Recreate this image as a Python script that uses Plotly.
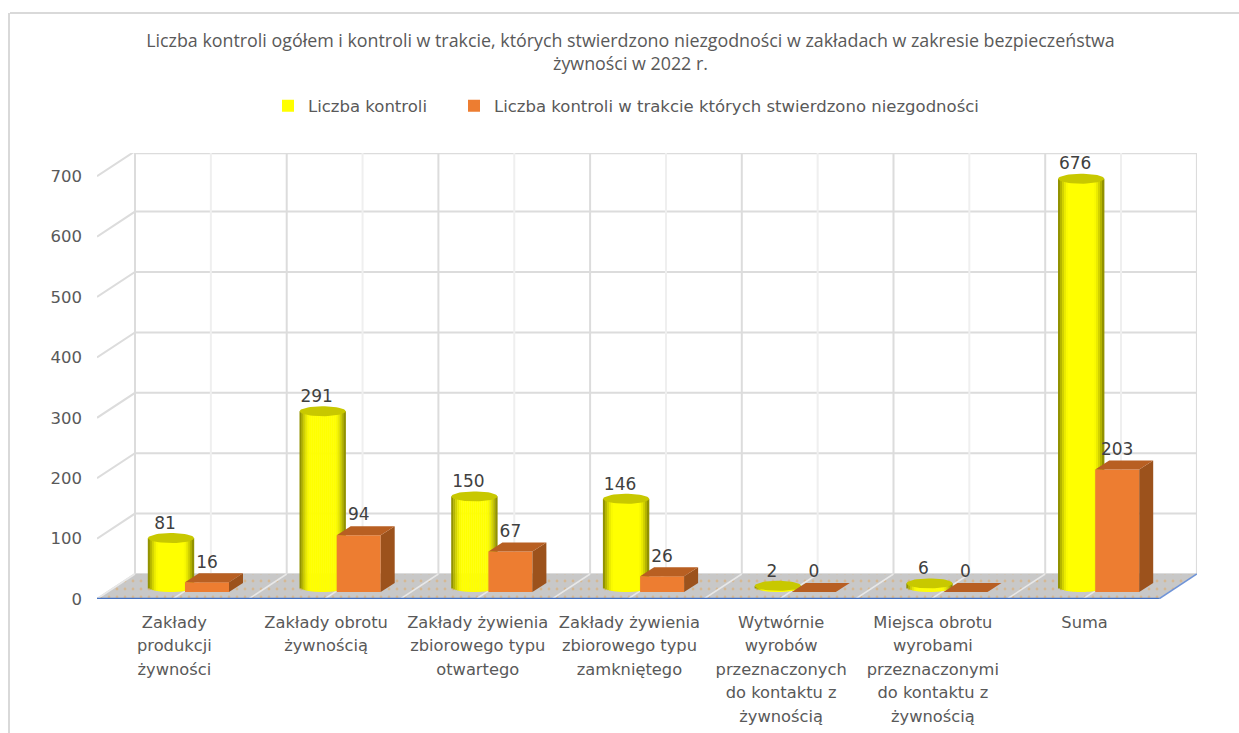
import numpy as np
import plotly.graph_objects as go

# ---- data ----
CATEGORIES = [
    ["Zakłady", "produkcji", "żywności"],
    ["Zakłady obrotu", "żywnością"],
    ["Zakłady żywienia", "zbiorowego typu", "otwartego"],
    ["Zakłady żywienia", "zbiorowego typu", "zamkniętego"],
    ["Wytwórnie", "wyrobów", "przeznaczonych", "do kontaktu z", "żywnością"],
    ["Miejsca obrotu", "wyrobami", "przeznaczonymi", "do kontaktu z", "żywnością"],
    ["Suma"],
]
KONTROLE = [81, 291, 150, 146, 2, 6, 676]
NIEZGODNOSCI = [16, 94, 67, 26, 0, 0, 203]
Y_TICKS = [0, 100, 200, 300, 400, 500, 600, 700]
SERIES_A = "Liczba kontroli"
SERIES_B = "Liczba kontroli w trakcie których stwierdzono niezgodności"
TITLE_LINES = ["Liczba kontroli ogółem i kontroli w trakcie, których stwierdzono niezgodności "
               "w zakładach w zakresie bezpieczeństwa", "żywności w 2022 r."]

# ---- geometry / style ----
W, H = 1239, 733
L, R, T, B = 97, 1197, 153, 599        # plot box in page pixels
UX = 151.7                              # px per category
UY = 0.604                              # px per value unit
XMAX = (R - L) / UX
YMAX = (B - T) / UY
DEPTH_X, DEPTH_Y = 38 / UX, 25 / UY     # wall depth
FONT = "DejaVu Sans"
TXT = "#595959"
GRID = "#dcdcdc"
GRID_L = "#efefef"

CYL_C = 74 / UX
CYL_A = 23 / UX
CYL_BASE = 12 / UY
CYL_B = 5 / UY
BOX_C = 110 / UX
BOX_W = 44 / UX
BOX_BASE = 7 / UY
BOX_DX, BOX_DY = 14 / UX, 9 / UY

fig = go.Figure()


def bg(x, y, **kw):
    fig.add_trace(go.Scatter(x=x, y=y, xaxis="x", yaxis="y", showlegend=False,
                             hoverinfo="skip", **kw))


def fg(x, y, **kw):
    fig.add_trace(go.Scatter(x=x, y=y, xaxis="x2", yaxis="y2", showlegend=False,
                             hoverinfo="skip", **kw))


# walls
xs, ys = [], []
for v in Y_TICKS:
    xs += [0, DEPTH_X, XMAX, None]
    ys += [v, v + DEPTH_Y, v + DEPTH_Y, None]
bg(xs, ys, mode="lines", line=dict(color=GRID, width=2))
bg([DEPTH_X, XMAX], [YMAX - 0.5, YMAX - 0.5], mode="lines", line=dict(color=GRID, width=2))
xs, ys = [], []
for k in range(7):
    xs += [DEPTH_X + k + 0.5, DEPTH_X + k + 0.5, None]
    ys += [DEPTH_Y, YMAX, None]
bg(xs, ys, mode="lines", line=dict(color=GRID_L, width=2))
xs, ys = [], []
for k in range(8):
    xs += [DEPTH_X + k, DEPTH_X + k, None]
    ys += [DEPTH_Y, YMAX, None]
bg(xs, ys, mode="lines", line=dict(color=GRID, width=2))

# floor
bg([0, 7, 7 + DEPTH_X, DEPTH_X, 0], [0, 0, DEPTH_Y, DEPTH_Y, 0], mode="none", fill="toself",
   fillcolor="#c8c8c8",
   fillpattern=dict(shape=".", bgcolor="#c8c8c8", fgcolor="#e0a860", size=8, solidity=0.1))
xs, ys = [], []
for k in range(14):
    xs += [k * 0.5, k * 0.5 + DEPTH_X, None]
    ys += [0, DEPTH_Y, None]
bg(xs, ys, mode="lines", line=dict(color="#e8e8e8", width=1.5))
bg([7, 7 + DEPTH_X], [0, DEPTH_Y], mode="lines", line=dict(color="#6f94d8", width=1.5), cliponaxis=False)
bg([0, 7], [0, 0], mode="lines", line=dict(color="#4472c4", width=2.5), cliponaxis=False)

# cylinders: vertical strips with a cylinder shading
cx = [i + CYL_C for i in range(len(KONTROLE))]
N = 23
sw = 2 * CYL_A / N
for j in range(N):
    t = (j + 0.5) / N * 2 - 1
    edge = min(1.0, max(0.0, (abs(t) - 0.55) / 0.45))
    shade = 1 - 0.5 * edge ** 1.6
    col = f"rgb({int(255 * shade)},{int(255 * shade)},0)"
    base = CYL_BASE - CYL_B * np.sqrt(1 - t * t)
    is_mid = j == N // 2
    fig.add_trace(go.Bar(
        x=[c + t * CYL_A for c in cx],
        y=[v + CYL_BASE - base for v in KONTROLE],
        base=[base] * len(cx),
        width=sw * 1.2,
        marker=dict(color=col, line=dict(width=0)),
        name=SERIES_A, showlegend=is_mid, legend="legend", hoverinfo="skip",
        xaxis="x2", yaxis="y2"))

# cylinder tops
theta = np.linspace(0, 2 * np.pi, 48)
for c, v in zip(cx, KONTROLE):
    fg(list(c + CYL_A * np.cos(theta)), list(CYL_BASE + v + CYL_B * np.sin(theta)),
       mode="lines", line=dict(width=0), fill="toself", fillcolor="#c8c800")

# boxes
bx = [i + BOX_C for i in range(len(NIEZGODNOSCI))]
fig.add_trace(go.Bar(x=bx, y=NIEZGODNOSCI, base=[BOX_BASE] * len(bx), width=BOX_W,
                     marker=dict(color="#ed7d31", line=dict(width=0)), name=SERIES_B,
                     showlegend=True, legend="legend2", hoverinfo="skip", xaxis="x2", yaxis="y2"))
for c, v in zip(bx, NIEZGODNOSCI):
    l, r = c - BOX_W / 2, c + BOX_W / 2
    top = BOX_BASE + v
    if v > 0:
        fg([r, r, r + BOX_DX, r + BOX_DX, r],
           [BOX_BASE, top, top + BOX_DY, BOX_BASE + BOX_DY, BOX_BASE],
           mode="lines", line=dict(width=0), fill="toself", fillcolor="#9c521c")
    fg([l, r, r + BOX_DX, l + BOX_DX, l], [top, top, top + BOX_DY, top + BOX_DY, top],
       mode="lines", line=dict(width=0), fill="toself", fillcolor="#b85f22")

# data labels
fg([c - 6 / UX for c in cx], [CYL_BASE + v + 13.5 / UY for v in KONTROLE], mode="text",
   text=[str(v) for v in KONTROLE], textposition="middle center",
   textfont=dict(family=FONT, size=17, color="#404040"), cliponaxis=False)
fg(bx, [BOX_BASE + v + 19 / UY for v in NIEZGODNOSCI], mode="text",
   text=[str(v) for v in NIEZGODNOSCI], textposition="middle center",
   textfont=dict(family=FONT, size=17, color="#404040"), cliponaxis=False)

ticktext = ["<br>".join(f'<span style="font-size:16.3px">{ln}</span>' for ln in lines)
            for lines in CATEGORIES]
title_text = "<br>".join(TITLE_LINES)


def legend_at(px_x):
    return dict(orientation="h", x=(px_x - L) / (R - L), xref="paper", y=1 - (106 - T) / (B - T),
                yanchor="middle", xanchor="left", yref="paper", bgcolor="rgba(0,0,0,0)",
                font=dict(family=FONT, size=16.5, color=TXT),
                itemclick=False, itemdoubleclick=False)


fig.update_layout(
    width=W, height=H, autosize=False,
    margin=dict(l=L, r=W - R, t=T, b=H - B, pad=0, autoexpand=False),
    paper_bgcolor="white", plot_bgcolor="white",
    barmode="overlay",
    font=dict(family=FONT, color=TXT),
    title=dict(text=title_text, x=630.5 / W, xanchor="center", y=1 - 47 / H, yanchor="middle",
               font=dict(family="Open Sans", size=17.85, color=TXT)),
    legend=legend_at(268),
    legend2=legend_at(454),
    xaxis=dict(range=[0, XMAX], tickvals=[i + 0.5 + 1.5 / UX for i in range(7)], ticktext=ticktext,
               tickangle=0, showgrid=False, zeroline=False, showline=False, ticks="",
               tickfont=dict(family=FONT, size=18, color=TXT), ticklabelstandoff=10,
               automargin=False, fixedrange=True),
    yaxis=dict(range=[0, YMAX], tickvals=Y_TICKS, showgrid=False, zeroline=False, showline=False,
               ticks="", tickfont=dict(family=FONT, size=16.5, color=TXT), ticklabelstandoff=14,
               automargin=False, fixedrange=True),
    xaxis2=dict(range=[0, XMAX], overlaying="x", visible=False, fixedrange=True),
    yaxis2=dict(range=[0, YMAX], overlaying="y", visible=False, fixedrange=True),
    shapes=[dict(type="line", xref="paper", yref="paper",
                 x0=(10 - L) / (R - L), x1=(W + 5 - L) / (R - L),
                 y0=1 + (T - 13) / (B - T), y1=1 + (T - 13) / (B - T),
                 line=dict(color="#d9d9d9", width=2)),
            dict(type="line", xref="paper", yref="paper",
                 x0=(9 - L) / (R - L), x1=(9 - L) / (R - L),
                 y0=1 + (T - 13) / (B - T), y1=1 - (H + 5 - T) / (B - T),
                 line=dict(color="#d9d9d9", width=2))],
)

fig.write_html("out.html", config=dict(displayModeBar=False),
               post_script="document.body.style.margin='0';document.documentElement.style.overflow='hidden';")
